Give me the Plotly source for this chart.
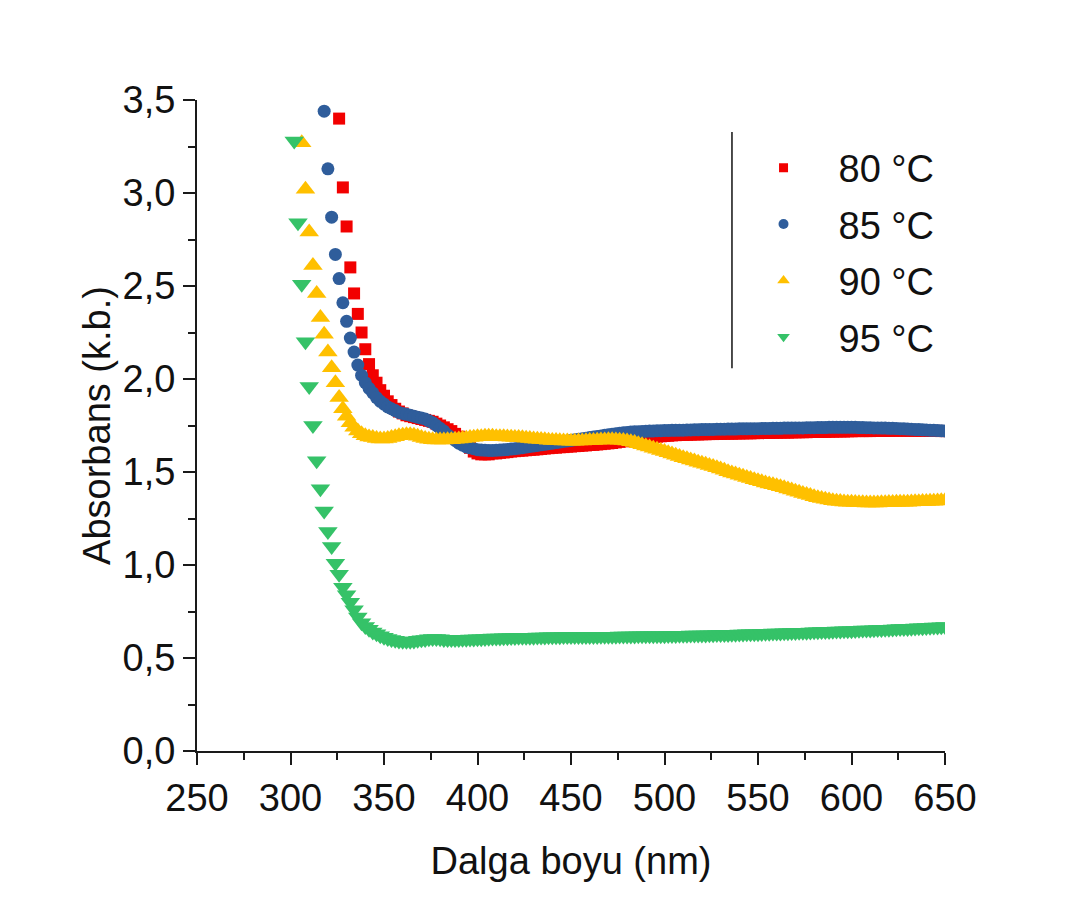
import plotly.graph_objects as go

# Absorbance spectra (2 nm step) for films prepared at four temperatures
wl_80 = list(range(326, 651, 2))
abs_80 = [
    3.40, 3.03, 2.82, 2.60, 2.46, 2.35, 2.25, 2.16, 2.08, 2.02,
    1.98, 1.94, 1.91, 1.88, 1.86, 1.84, 1.825, 1.815, 1.805, 1.80,
    1.795, 1.79, 1.785, 1.78, 1.775, 1.77, 1.76, 1.75, 1.74, 1.73,
    1.72, 1.705, 1.69, 1.67, 1.65, 1.63, 1.61, 1.60, 1.595, 1.595,
    1.595, 1.60, 1.60, 1.603, 1.605, 1.607, 1.61, 1.612, 1.614, 1.615,
    1.617, 1.619, 1.62, 1.622, 1.624, 1.626, 1.628, 1.63, 1.631, 1.633,
    1.634, 1.636, 1.637, 1.639, 1.64, 1.642, 1.643, 1.645, 1.646, 1.648,
    1.65, 1.652, 1.654, 1.656, 1.659, 1.662, 1.665, 1.668, 1.671, 1.674,
    1.677, 1.68, 1.683, 1.686, 1.688, 1.69, 1.692, 1.694, 1.695, 1.697,
    1.698, 1.699, 1.70, 1.70, 1.701, 1.702, 1.702, 1.703, 1.703, 1.704,
    1.704, 1.705, 1.705, 1.706, 1.706, 1.706, 1.707, 1.707, 1.708, 1.708,
    1.708, 1.709, 1.709, 1.71, 1.71, 1.71, 1.711, 1.711, 1.712, 1.712,
    1.712, 1.713, 1.713, 1.714, 1.714, 1.714, 1.715, 1.715, 1.716, 1.716,
    1.716, 1.717, 1.717, 1.718, 1.718, 1.718, 1.719, 1.719, 1.72, 1.72,
    1.72, 1.72, 1.72, 1.721, 1.721, 1.721, 1.721, 1.721, 1.722, 1.722,
    1.722, 1.722, 1.722, 1.722, 1.722, 1.722, 1.722, 1.722, 1.721, 1.721,
    1.721, 1.72, 1.72,
]

wl_85 = list(range(318, 651, 2))
abs_85 = [
    3.44, 3.13, 2.87, 2.67, 2.54, 2.41, 2.31, 2.22, 2.145, 2.075,
    2.02, 1.98, 1.95, 1.925, 1.90, 1.88, 1.865, 1.85, 1.84, 1.83,
    1.82, 1.815, 1.81, 1.805, 1.80, 1.795, 1.79, 1.785, 1.775, 1.765,
    1.75, 1.735, 1.72, 1.70, 1.685, 1.67, 1.655, 1.645, 1.635, 1.63,
    1.625, 1.62, 1.618, 1.617, 1.616, 1.616, 1.617, 1.618, 1.619, 1.621,
    1.623, 1.625, 1.628, 1.631, 1.634, 1.637, 1.64, 1.643, 1.646, 1.649,
    1.652, 1.655, 1.658, 1.661, 1.664, 1.667, 1.67, 1.673, 1.676, 1.679,
    1.682, 1.685, 1.688, 1.691, 1.694, 1.697, 1.70, 1.703, 1.706, 1.709,
    1.711, 1.713, 1.715, 1.716, 1.717, 1.718, 1.719, 1.72, 1.721, 1.722,
    1.722, 1.723, 1.723, 1.724, 1.724, 1.725, 1.725, 1.726, 1.726, 1.727,
    1.727, 1.728, 1.728, 1.729, 1.729, 1.73, 1.73, 1.73, 1.731, 1.731,
    1.731, 1.732, 1.732, 1.732, 1.733, 1.733, 1.733, 1.734, 1.734, 1.734,
    1.735, 1.735, 1.735, 1.736, 1.736, 1.736, 1.737, 1.737, 1.737, 1.738,
    1.738, 1.738, 1.739, 1.739, 1.739, 1.74, 1.74, 1.74, 1.74, 1.74,
    1.74, 1.74, 1.74, 1.739, 1.739, 1.738, 1.738, 1.737, 1.737, 1.736,
    1.736, 1.735, 1.735, 1.734, 1.733, 1.732, 1.731, 1.73, 1.729, 1.728,
    1.727, 1.726, 1.725, 1.724, 1.723, 1.722, 1.721,
]

wl_90 = list(range(306, 651, 2))
abs_90 = [
    3.27, 3.02, 2.79, 2.61, 2.46, 2.33, 2.24, 2.145, 2.06, 1.98,
    1.90, 1.84, 1.80, 1.765, 1.74, 1.72, 1.705, 1.695, 1.688, 1.685,
    1.68, 1.678, 1.678, 1.68, 1.685, 1.69, 1.695, 1.698, 1.70, 1.70,
    1.698, 1.692, 1.686, 1.68, 1.676, 1.673, 1.672, 1.672, 1.672, 1.673,
    1.674, 1.676, 1.678, 1.68, 1.682, 1.685, 1.687, 1.69, 1.69, 1.692,
    1.692, 1.692, 1.69, 1.69, 1.689, 1.688, 1.687, 1.686, 1.685, 1.684,
    1.682, 1.68, 1.678, 1.676, 1.675, 1.673, 1.671, 1.67, 1.669, 1.668,
    1.667, 1.666, 1.665, 1.665, 1.666, 1.667, 1.668, 1.669, 1.67, 1.671,
    1.672, 1.672, 1.673, 1.673, 1.672, 1.671, 1.669, 1.667, 1.663, 1.658,
    1.652, 1.646, 1.64, 1.634, 1.628, 1.622, 1.616, 1.61, 1.603, 1.597,
    1.59, 1.583, 1.577, 1.571, 1.565, 1.559, 1.553, 1.547, 1.541, 1.535,
    1.529, 1.523, 1.516, 1.509, 1.502, 1.495, 1.489, 1.483, 1.477, 1.471,
    1.465, 1.459, 1.453, 1.447, 1.441, 1.436, 1.431, 1.426, 1.421, 1.415,
    1.409, 1.403, 1.397, 1.391, 1.385, 1.379, 1.373, 1.367, 1.362, 1.357,
    1.353, 1.349, 1.346, 1.343, 1.341, 1.339, 1.338, 1.337, 1.336, 1.335,
    1.335, 1.334, 1.334, 1.334, 1.334, 1.335, 1.335, 1.336, 1.336, 1.337,
    1.337, 1.338, 1.338, 1.339, 1.34, 1.34, 1.341, 1.342, 1.343, 1.343,
    1.344, 1.345, 1.346,
]

wl_95 = list(range(302, 651, 2))
abs_95 = [
    3.28, 2.84, 2.51, 2.20, 1.96, 1.75, 1.56, 1.41, 1.29, 1.18,
    1.10, 1.01, 0.95, 0.88, 0.84, 0.80, 0.76, 0.72, 0.69, 0.67,
    0.655, 0.64, 0.63, 0.62, 0.612, 0.605, 0.60, 0.595, 0.592, 0.59,
    0.59, 0.59, 0.592, 0.595, 0.598, 0.60, 0.603, 0.605, 0.605, 0.603,
    0.60, 0.60, 0.60, 0.60, 0.60, 0.601, 0.601, 0.602, 0.602, 0.603,
    0.604, 0.605, 0.606, 0.607, 0.607, 0.608, 0.609, 0.609, 0.61, 0.61,
    0.611, 0.611, 0.612, 0.612, 0.612, 0.613, 0.613, 0.613, 0.614, 0.614,
    0.614, 0.614, 0.615, 0.615, 0.615, 0.615, 0.615, 0.616, 0.616, 0.616,
    0.616, 0.616, 0.617, 0.617, 0.617, 0.617, 0.617, 0.618, 0.618, 0.618,
    0.618, 0.618, 0.619, 0.619, 0.619, 0.619, 0.62, 0.62, 0.62, 0.62,
    0.621, 0.621, 0.621, 0.622, 0.622, 0.622, 0.623, 0.623, 0.623, 0.624,
    0.624, 0.625, 0.625, 0.626, 0.626, 0.627, 0.627, 0.628, 0.628, 0.629,
    0.629, 0.63, 0.63, 0.631, 0.631, 0.632, 0.633, 0.633, 0.634, 0.634,
    0.635, 0.636, 0.636, 0.637, 0.637, 0.638, 0.639, 0.639, 0.64, 0.641,
    0.641, 0.642, 0.643, 0.643, 0.644, 0.645, 0.645, 0.646, 0.647, 0.647,
    0.648, 0.649, 0.65, 0.65, 0.651, 0.652, 0.653, 0.653, 0.654, 0.655,
    0.656, 0.657, 0.658, 0.658, 0.659, 0.66, 0.661, 0.662, 0.663, 0.664,
    0.665, 0.666, 0.667, 0.668, 0.669,
]

series_names = ["80 °C", "85 °C", "90 °C", "95 °C"]
series_x = [wl_80, wl_85, wl_90, wl_95]
series_y = [abs_80, abs_85, abs_90, abs_95]
colors = ["#F20000", "#2F5D9B", "#FFC000", "#35C268"]
symbols = ["square", "circle", "triangle-up", "triangle-down"]
sizes = [12, 13, 17, 17]
legend_sizes = [9, 10, 11, 11]

FONT = "Liberation Sans, Arial, sans-serif"

fig = go.Figure()

# Spectra (drawn in order so hotter samples sit on top)
for name, xs, ys, c, s, sz in zip(series_names, series_x, series_y, colors, symbols, sizes):
    fig.add_trace(go.Scatter(
        x=xs, y=ys, mode="markers", name=name, showlegend=False,
        marker=dict(color=c, symbol=s, size=sz, line=dict(width=0)),
    ))

# Legend entries with smaller symbols
for i, (name, c, s, sz) in enumerate(zip(series_names, colors, symbols, legend_sizes)):
    fig.add_trace(go.Scatter(
        x=[None], y=[None], mode="markers", name=name, legendgroup=f"g{i}",
        marker=dict(color=c, symbol=s, size=sz, line=dict(width=0)),
    ))

axis_common = dict(
    showline=True, linecolor="#1a1a1a", linewidth=2,
    ticks="outside", ticklen=12, tickwidth=2, tickcolor="#1a1a1a",
    showgrid=False, zeroline=False, mirror=False,
    tickfont=dict(family=FONT, size=38, color="#111"),
)

fig.update_layout(
    width=1092, height=900,
    margin=dict(l=197, r=147, t=100, b=149),
    paper_bgcolor="white", plot_bgcolor="white",
    separators=", ",
    font=dict(family=FONT, color="#111"),
    xaxis=dict(
        range=[250, 650], tick0=250, dtick=50,
        minor=dict(ticks="outside", ticklen=7, tickwidth=2, tickcolor="#1a1a1a", dtick=25),
        title=dict(text="Dalga boyu (nm)", font=dict(family=FONT, size=38), standoff=30),
        **axis_common,
    ),
    yaxis=dict(
        range=[0, 3.5], tick0=0, dtick=0.5, tickformat=".1f",
        minor=dict(ticks="outside", ticklen=7, tickwidth=2, tickcolor="#1a1a1a", dtick=0.25),
        title=dict(text="Absorbans (k.b.)", font=dict(family=FONT, size=38), standoff=0),
        **axis_common,
    ),
    legend=dict(
        x=0.7106, y=0.944, xanchor="left", yanchor="top",
        font=dict(family=FONT, size=38, color="#111"),
        bgcolor="rgba(0,0,0,0)", itemwidth=100,
        traceorder="grouped", tracegroupgap=4,
    ),
    shapes=[dict(
        type="line", xref="paper", yref="paper",
        x0=0.7152, x1=0.7152, y0=0.588, y1=0.951,
        line=dict(color="#111", width=1.5),
    )],
)

fig.write_html("out.html")
